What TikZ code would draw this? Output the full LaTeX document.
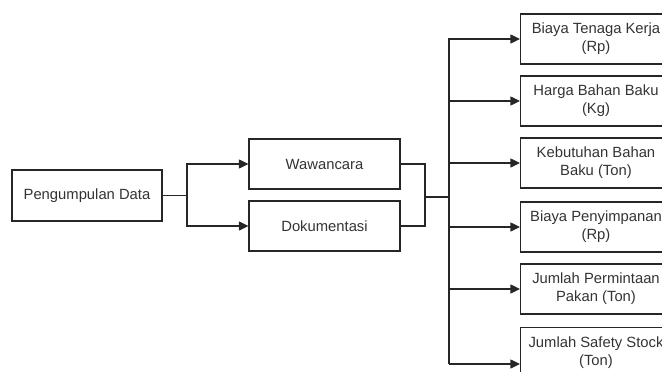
\documentclass[tikz,border=0pt]{standalone}
\usepackage{fontspec}
\setmainfont{Liberation Sans}
\usetikzlibrary{positioning, arrows.meta}

\tikzset{
  kotak/.style={draw, rectangle, minimum width=151pt, minimum height=50pt,
    inner sep=0pt, align=center, text=black!80,
    font=\fontsize{14.8}{18}\selectfont},
}

\begin{document}
\begin{tikzpicture}[x=1pt, y=-1pt, ->, >={Triangle[length=9.5pt, width=9pt]},
    line width=1.2pt, draw=black!85]
    \useasboundingbox (0,0) rectangle (662,372);
    \node[kotak, minimum width=150pt, minimum height=51pt] (pd) at (87,195.5) {Pengumpulan Data};
    \node[kotak] (ww) at (324.5,164) {Wawancara};
    \node[kotak] (dk) at (324.5,226) {Dokumentasi};
    \node[kotak] (b1) at (596,39)    {Biaya Tenaga Kerja\\(Rp)};
    \node[kotak] (b2) at (596,101)   {Harga Bahan Baku\\(Kg)};
    \node[kotak] (b3) at (596,163)   {Kebutuhan Bahan\\Baku (Ton)};
    \node[kotak] (b4) at (596,227)   {Biaya Penyimpanan\\(Rp)};
    \node[kotak] (b5) at (596,289)   {Jumlah Permintaan\\Pakan (Ton)};
    \node[kotak] (b6) at (596,352.5) {Jumlah Safety Stock\\(Ton)};

    \coordinate (c1) at (187,195.5);
    \coordinate (c2) at (425,197);
    \coordinate (c3) at (449,197);
    \coordinate (atas) at (449,38);
    \coordinate (bawah) at (449,364);

    \draw[-] (pd) -- (c1);
    \draw (c1) |- (ww);
    \draw (c1) |- (dk);
    \draw[-] (ww) -| (c2) |- (dk);
    \draw[-] (c2) -- (c3);
    \draw[-] (atas) -- (bawah);
    \foreach \b in {b1,b2,b3,b4,b5}
        \draw (atas |- \b.west) -- (\b.west);
    \draw (bawah) -- (bawah -| b6.west);
\end{tikzpicture}
\end{document}
